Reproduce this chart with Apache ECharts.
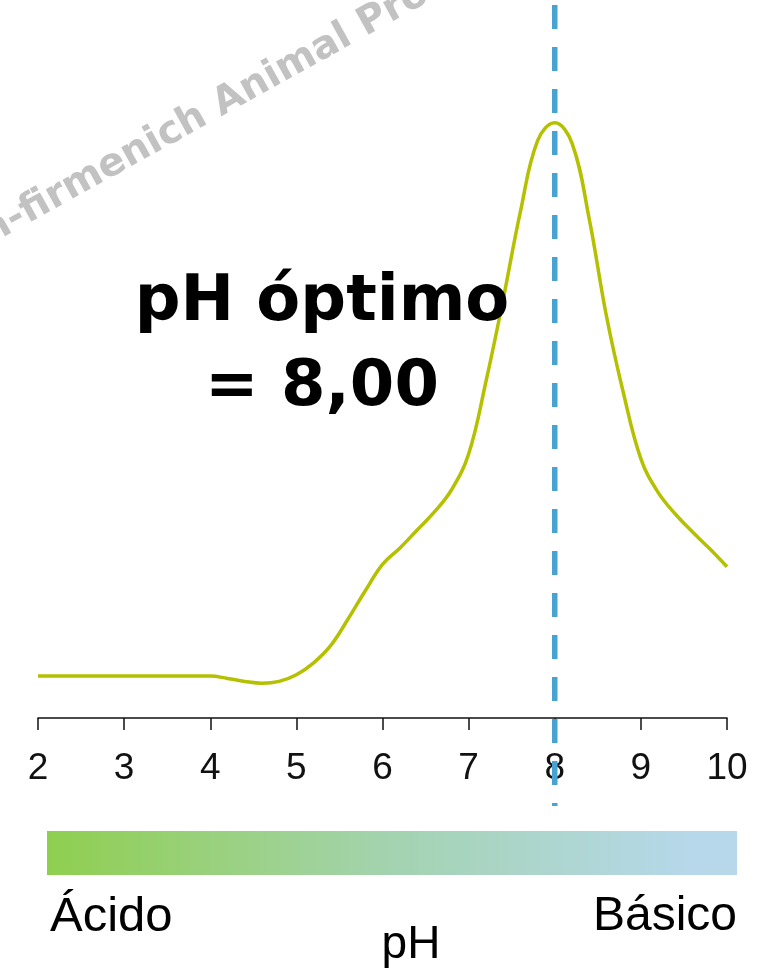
<!DOCTYPE html>
<html>
<head>
<meta charset="utf-8">
<script src="https://cdn.jsdelivr.net/npm/echarts@6/dist/echarts.min.js"></script>
<style>
  html, body { margin: 0; padding: 0; background: #fff; }
  #chart { width: 769px; height: 971px; }
</style>
</head>
<body>
<div id="chart"></div>
<script>
// pH values along the curve (step 0.2) and relative activity (y axis hidden)
var phValues = [2, 2.2, 2.4, 2.6, 2.8, 3, 3.2, 3.4, 3.6, 3.8,
                4, 4.2, 4.4, 4.6, 4.8, 5, 5.2, 5.4, 5.6, 5.8,
                6, 6.2, 6.4, 6.6, 6.8, 7, 7.2, 7.4, 7.6, 7.8,
                8, 8.2, 8.4, 8.6, 8.8, 9, 9.2, 9.4, 9.6, 9.8, 10];
var activity = [7, 7, 7, 7, 7, 7, 7, 7, 7, 7,
                7, 6.6, 6.1, 5.8, 6.1, 7.2, 9.2, 12.1, 16.5, 21.2,
                25.6, 28.3, 31.3, 34.3, 38, 44, 56, 69.7, 84.3, 96.2,
                99.2, 95.8, 83.2, 67, 54, 43.2, 37.6, 34, 31, 28.2, 25.2];
var tickLabels = ['2', '3', '4', '5', '6', '7', '8', '9', '10'];
var optimumPh = 8;

var curveData = phValues.map(function (x, i) { return [x, activity[i]]; });

var myChart = echarts.init(document.getElementById('chart'));

myChart.setOption({
  backgroundColor: '#ffffff',
  animation: false,
  grid: { left: 38, right: 42, top: 118, bottom: 253 },
  xAxis: {
    type: 'value',
    min: 2,
    max: 10,
    interval: 1,
    splitLine: { show: false },
    axisLine: { show: true, lineStyle: { color: '#111', width: 1.5 } },
    axisTick: { show: true, length: 12, lineStyle: { color: '#111', width: 1.5 } },
    axisLabel: {
      margin: 32,
      fontSize: 37,
      fontFamily: 'Liberation Sans',
      color: '#111',
      formatter: function (v) { return tickLabels[v - 2]; }
    }
  },
  yAxis: {
    type: 'value',
    min: 0,
    max: 100,
    show: false
  },
  series: [{
    type: 'line',
    data: curveData,
    smooth: 0.4,
    showSymbol: false,
    lineStyle: { color: '#b4c000', width: 3.5 },
    z: 2
  }]
});

function drawExtras() {
  var px = myChart.convertToPixel({ xAxisIndex: 0 }, optimumPh);
  myChart.setOption({
    graphic: [
      // watermark
      {
        type: 'text',
        x: -62, y: 284,
        rotation: 29 * Math.PI / 180,
        style: {
          text: 'dsm-firmenich Animal Products',
          font: 'bold 39px "DejaVu Sans"',
          fill: '#c2c2c2',
          textAlign: 'left',
          textVerticalAlign: 'bottom'
        },
        z: 1
      },
      // optimum line
      {
        type: 'line',
        shape: { x1: px, y1: 5, x2: px, y2: 806 },
        style: { stroke: '#48a3d3', lineWidth: 5.5, lineDash: [24, 18] },
        z: 10
      },
      {
        type: 'text',
        x: 322, y: 303,
        style: {
          text: 'pH óptimo',
          font: 'bold 64px "DejaVu Sans"',
          fill: '#000',
          textAlign: 'center',
          textVerticalAlign: 'middle'
        },
        z: 5
      },
      {
        type: 'text',
        x: 322, y: 388,
        style: {
          text: '= 8,00',
          font: 'bold 64px "DejaVu Sans"',
          fill: '#000',
          textAlign: 'center',
          textVerticalAlign: 'middle'
        },
        z: 5
      },
      // pH scale bar
      {
        type: 'rect',
        shape: { x: 47, y: 831, width: 690, height: 44 },
        style: {
          fill: new echarts.graphic.LinearGradient(0, 0, 1, 0, [
            { offset: 0, color: '#8fcf4f' },
            { offset: 0.5, color: '#a3d3b0' },
            { offset: 0.93, color: '#b6d8ea' },
            { offset: 1, color: '#b6d8ea' }
          ])
        }
      },
      {
        type: 'text',
        x: 50, y: 917,
        style: {
          text: 'Ácido',
          font: '49px "Liberation Sans"',
          fill: '#000',
          textAlign: 'left',
          textVerticalAlign: 'middle'
        }
      },
      {
        type: 'text',
        x: 737, y: 917,
        style: {
          text: 'Básico',
          font: '48px "Liberation Sans"',
          fill: '#000',
          textAlign: 'right',
          textVerticalAlign: 'middle'
        }
      },
      {
        type: 'text',
        x: 411, y: 945,
        style: {
          text: 'pH',
          font: '46px "Liberation Sans"',
          fill: '#000',
          textAlign: 'center',
          textVerticalAlign: 'middle'
        }
      }
    ]
  });
}

drawExtras();
</script>
</body>
</html>
